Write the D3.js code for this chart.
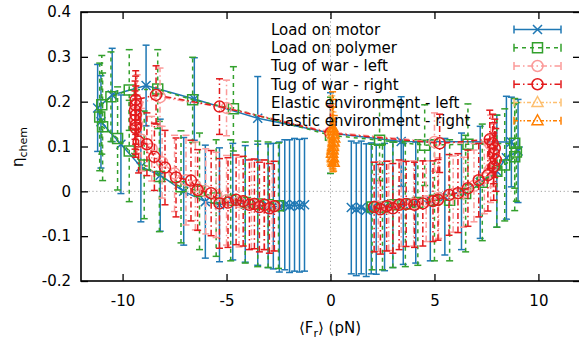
<!DOCTYPE html>
<html><head><meta charset="utf-8">
<script src="https://cdn.jsdelivr.net/npm/d3@7/dist/d3.min.js"></script>
<style>body{margin:0;background:#fff}svg{display:block;font-family:"DejaVu Sans",sans-serif}</style>
</head><body><svg id="c" width="579" height="339"></svg>
<script>
// ---------- data ----------
const xTicks = [-10, -5, 0, 5, 10];
const xTickLabels = ["-10", "-5", "0", "5", "10"];
const yTicks = [-0.2, -0.1, 0, 0.1, 0.2, 0.3, 0.4];
const yTickLabels = ["-0.2", "-0.1", "0", "0.1", "0.2", "0.3", "0.4"];
const seriesNames = ["Load on motor", "Load on polymer", "Tug of war - left", "Tug of war - right", "Elastic environment - left", "Elastic environment - right"];

// Load on motor
const motorF = [1.0, 1.24, 1.48, 1.72, 1.96, 2.2, 2.6, 3.0, 3.5, 4.1, 4.8, 5.5, 6.3, 7.2, 8.0, 8.46, 9.02, 8.7, 3.4, 0.0, -3.5, -6.55, -8.87, -10.5, -11.2, -11.04, -10.08, -9.12, -8.19, -7.06, -6.02, -5.34, -4.7, -4.1, -3.5, -3.0, -2.75, -2.46, -2.2, -1.97, -1.73, -1.49, -1.25];
const motorEta = [-0.036, -0.040, -0.036, -0.042, -0.038, -0.040, -0.035, -0.030, -0.028, -0.025, -0.020, -0.012, 0.000, 0.020, 0.045, 0.075, 0.090, 0.110, 0.111, 0.130, 0.163, 0.206, 0.236, 0.215, 0.186, 0.155, 0.105, 0.055, 0.036, 0.000, -0.023, -0.030, -0.023, -0.028, -0.030, -0.032, -0.033, -0.035, -0.030, -0.033, -0.030, -0.032, -0.030];
const motorErr = [0.148, 0.148, 0.148, 0.148, 0.146, 0.145, 0.142, 0.14, 0.135, 0.135, 0.135, 0.13, 0.13, 0.125, 0.125, 0.137, 0.115, 0.10, 0.10, 0.09, 0.093, 0.092, 0.09, 0.104, 0.097, 0.103, 0.11, 0.123, 0.125, 0.12, 0.126, 0.127, 0.13, 0.13, 0.135, 0.138, 0.14, 0.145, 0.145, 0.148, 0.148, 0.148, 0.148];

// Load on polymer
const polyF = [2.0, 2.5, 3.0, 3.6, 4.2, 5.0, 5.73, 6.5, 7.3, 8.0, 8.38, 8.86, 8.94, 8.86, 6.61, 4.53, 2.36, 0.0, -4.67, -6.63, -8.31, -9.68, -10.56, -11.0, -11.1, -10.96, -10.24, -9.68, -8.96, -8.23, -7.19, -6.3, -5.5, -4.8, -4.1, -3.5, -3.0, -2.5];
const polyEta = [-0.035, -0.035, -0.030, -0.028, -0.025, -0.020, -0.020, -0.005, 0.020, 0.045, 0.059, 0.077, 0.088, 0.107, 0.105, 0.103, 0.114, 0.125, 0.184, 0.204, 0.228, 0.226, 0.211, 0.193, 0.166, 0.144, 0.118, 0.090, 0.059, 0.033, 0.010, 0.000, -0.015, -0.020, -0.025, -0.028, -0.030, -0.032];
const polyErr = [0.14, 0.14, 0.14, 0.14, 0.14, 0.135, 0.135, 0.13, 0.13, 0.125, 0.125, 0.12, 0.11, 0.10, 0.09, 0.09, 0.09, 0.085, 0.094, 0.095, 0.088, 0.09, 0.10, 0.11, 0.12, 0.12, 0.115, 0.113, 0.12, 0.123, 0.125, 0.13, 0.13, 0.135, 0.135, 0.14, 0.14, 0.14];

// Tug of war - left (mostly hidden beneath the right one)
const tugLF = [2.3, 2.8, 3.4, 4.0, 4.6, 5.2, 5.9, 6.4, 6.9, 7.4, 7.7, 7.8, 7.7, 5.0, 0.0, -5.0, -8.2, -9.3, -9.35, -9.3, -9.1, -8.6, -8.1, -7.5, -6.95, -6.5, -6.0, -5.5, -5.0, -4.4, -3.8, -3.2, -2.8];
const tugLEta = [-0.034, -0.032, -0.028, -0.027, -0.022, -0.015, -0.006, -0.002, 0.012, 0.030, 0.050, 0.080, 0.105, 0.110, 0.132, 0.186, 0.210, 0.195, 0.170, 0.150, 0.115, 0.095, 0.065, 0.040, 0.025, 0.012, 0.000, -0.008, -0.020, -0.024, -0.028, -0.030, -0.033];
const tugLErr = [0.1, 0.1, 0.095, 0.095, 0.09, 0.09, 0.085, 0.078, 0.08, 0.08, 0.075, 0.07, 0.065, 0.065, 0.06, 0.062, 0.065, 0.065, 0.065, 0.065, 0.07, 0.072, 0.08, 0.085, 0.1, 0.098, 0.095, 0.095, 0.1, 0.1, 0.1, 0.1, 0.1];

// Tug of war - right
const tugRF = [2.1, 2.4, 2.7, 3.0, 3.3, 3.64, 4.04, 4.44, 4.93, 5.17, 5.7, 6.13, 6.61, 7.13, 7.57, 7.85, 7.95, 7.85, 7.9, 7.8, 7.66, 5.25, 0.0, -5.34, -8.39, -9.37, -9.37, -9.40, -9.37, -9.40, -9.37, -9.37, -9.23, -8.83, -8.47, -7.96, -7.43, -6.71, -6.39, -5.74, -5.34, -4.93, -4.54, -4.2, -3.9, -3.66, -3.42, -3.18, -2.94, -2.7];
const tugREta = [-0.035, -0.040, -0.033, -0.038, -0.030, -0.028, -0.030, -0.027, -0.022, -0.019, -0.008, -0.004, 0.007, 0.025, 0.036, 0.055, 0.070, 0.085, 0.096, 0.107, 0.116, 0.107, 0.130, 0.189, 0.215, 0.204, 0.192, 0.181, 0.170, 0.159, 0.148, 0.141, 0.111, 0.105, 0.077, 0.053, 0.031, 0.024, 0.003, -0.004, -0.027, -0.025, -0.019, -0.022, -0.030, -0.028, -0.035, -0.030, -0.038, -0.033];
const tugRErr = [0.1, 0.1, 0.1, 0.1, 0.1, 0.095, 0.095, 0.095, 0.09, 0.09, 0.09, 0.088, 0.085, 0.082, 0.08, 0.075, 0.07, 0.068, 0.065, 0.065, 0.065, 0.065, 0.06, 0.062, 0.065, 0.065, 0.065, 0.065, 0.065, 0.065, 0.065, 0.065, 0.07, 0.07, 0.075, 0.083, 0.088, 0.09, 0.09, 0.095, 0.1, 0.1, 0.1, 0.1, 0.1, 0.1, 0.1, 0.1, 0.1, 0.1];

// Elastic environment - left
const elLF = [0.06, 0.09, 0.12, 0.14, 0.12, 0.09, 0.07, 0.09, 0.11];
const elLEta = [0.138, 0.130, 0.122, 0.113, 0.104, 0.095, 0.086, 0.077, 0.068];
const elLErr = [0.075, 0.065, 0.055, 0.05, 0.045, 0.04, 0.035, 0.03, 0.025];

// Elastic environment - right
const elRF = [0.10, 0.12, 0.15, 0.18, 0.15, 0.12, 0.10, 0.08, 0.12, 0.15];
const elREta = [0.142, 0.135, 0.128, 0.119, 0.110, 0.100, 0.092, 0.085, 0.075, 0.065];
const elRErr = [0.08, 0.07, 0.06, 0.05, 0.045, 0.04, 0.035, 0.03, 0.025, 0.02];

// ---------- drawing ----------
const svg = d3.select("#c");
const x = d3.scaleLinear().domain([-12, 12]).range([81, 580]);
const y = d3.scaleLinear().domain([-0.2, 0.4]).range([281, 12]);

const series = [
  {F: motorF, E: motorEta, S: motorErr, color: "#1f78b4", dash: null, mark: "x"},
  {F: polyF, E: polyEta, S: polyErr, color: "#33a02c", dash: "4,4", mark: "square"},
  {F: tugLF, E: tugLEta, S: tugLErr, color: "#fb9a99", dash: "6,3,1.5,3", mark: "circle"},
  {F: tugRF, E: tugREta, S: tugRErr, color: "#e31a1c", dash: "6,3,1.5,3", mark: "circle"},
  {F: elLF, E: elLEta, S: elLErr, color: "#fdbf6f", dash: "4,2,1.5,2,1.5,2", mark: "tri"},
  {F: elRF, E: elREta, S: elRErr, color: "#ff7f00", dash: "4,2,1.5,2,1.5,2", mark: "tri"}
];

svg.append("defs").append("clipPath").attr("id", "clip")
  .append("rect").attr("x", 81).attr("y", 12).attr("width", 499).attr("height", 269);

const plot = svg.append("g").attr("clip-path", "url(#clip)");

// zero lines
plot.append("line").attr("x1", x(-12)).attr("x2", x(12)).attr("y1", y(0)).attr("y2", y(0))
  .attr("stroke", "#a0a0a0").attr("stroke-width", 1).attr("stroke-dasharray", "1.2,2.6");
plot.append("line").attr("x1", x(0)).attr("x2", x(0)).attr("y1", y(-0.2)).attr("y2", y(0.4))
  .attr("stroke", "#a0a0a0").attr("stroke-width", 1).attr("stroke-dasharray", "1.2,2.6");

function markerPath(t, cx, cy) {
  if (t === "x") return `M${cx-4.5},${cy-4.5}L${cx+4.5},${cy+4.5}M${cx-4.5},${cy+4.5}L${cx+4.5},${cy-4.5}`;
  if (t === "square") return `M${cx-5},${cy-5}h10v10h-10Z`;
  if (t === "circle") return `M${cx-5.5},${cy}a5.5,5.5 0 1,0 11,0a5.5,5.5 0 1,0 -11,0Z`;
  return `M${cx},${cy-6}L${cx+5.5},${cy+4}L${cx-5.5},${cy+4}Z`;
}

const line = d3.line().x(d => x(d[0])).y(d => y(d[1]));

series.forEach(s => {
  const g = plot.append("g");
  const pts = s.F.map((f, i) => [f, s.E[i], s.S[i]]);
  pts.forEach(p => {
    const px = x(p[0]);
    g.append("line").attr("x1", px).attr("x2", px).attr("y1", y(p[1] - p[2])).attr("y2", y(p[1] + p[2]))
      .attr("stroke", s.color).attr("stroke-width", 1.5).attr("stroke-dasharray", s.dash);
    [p[1] - p[2], p[1] + p[2]].forEach(v => {
      g.append("line").attr("x1", px - 3.5).attr("x2", px + 3.5).attr("y1", y(v)).attr("y2", y(v))
        .attr("stroke", s.color).attr("stroke-width", 1.5);
    });
  });
  g.append("path").attr("d", line(pts)).attr("fill", "none").attr("stroke", s.color)
    .attr("stroke-width", 1.5).attr("stroke-dasharray", s.dash);
  pts.forEach(p => {
    g.append("path").attr("d", markerPath(s.mark, x(p[0]), y(p[1])))
      .attr("fill", "none").attr("stroke", s.color).attr("stroke-width", 1.5);
  });
});

// axes
const fontSize = "15px";
const axG = svg.append("g");
const axBottom = axG.append("g").attr("transform", `translate(0,${y(-0.2)})`)
  .call(d3.axisBottom(x).tickValues(xTicks).tickFormat((d, i) => xTickLabels[i]).tickSizeInner(-7).tickSizeOuter(0).tickPadding(14));
const axTop = axG.append("g").attr("transform", `translate(0,${y(0.4)})`)
  .call(d3.axisTop(x).tickValues(xTicks).tickFormat("").tickSizeInner(-7).tickSizeOuter(0));
const axLeft = axG.append("g").attr("transform", `translate(${x(-12)},0)`)
  .call(d3.axisLeft(y).tickValues(yTicks).tickFormat((d, i) => yTickLabels[i]).tickSizeInner(-7).tickSizeOuter(0).tickPadding(10));
const axRight = axG.append("g").attr("transform", `translate(${x(12)},0)`)
  .call(d3.axisRight(y).tickValues(yTicks).tickFormat("").tickSizeInner(-7).tickSizeOuter(0));
[axBottom, axTop, axLeft, axRight].forEach(a => {
  a.select(".domain").remove();
  a.selectAll(".tick line").attr("stroke", "#000").attr("stroke-width", 1.3);
  a.selectAll("text").attr("font-family", "DejaVu Sans").attr("font-size", fontSize).attr("fill", "#000");
});
axG.append("rect").attr("x", x(-12)).attr("y", y(0.4)).attr("width", x(12) - x(-12)).attr("height", y(-0.2) - y(0.4))
  .attr("fill", "none").attr("stroke", "#000").attr("stroke-width", 1.6);

// axis labels
const xl = svg.append("text").attr("x", 330).attr("y", 333).attr("text-anchor", "middle")
  .attr("font-size", fontSize).attr("fill", "#000");
xl.append("tspan").text("\u27E8F");
xl.append("tspan").attr("font-size", "11px").attr("dy", 4).text("r");
xl.append("tspan").attr("dy", -4).text("\u27E9 (pN)");

const yl = svg.append("text").attr("transform", "translate(23,147) rotate(-90)").attr("text-anchor", "middle")
  .attr("font-size", fontSize).attr("fill", "#000");
yl.append("tspan").text("\u03B7");
yl.append("tspan").attr("font-size", "11px").attr("dy", 4).text("chem");

// legend
const legY0 = 29.5, legDy = 18.25;
series.forEach((s, i) => {
  const ly = legY0 + i * legDy;
  const g = svg.append("g");
  g.append("line").attr("x1", 514).attr("x2", 561).attr("y1", ly).attr("y2", ly)
    .attr("stroke", s.color).attr("stroke-width", 1.5).attr("stroke-dasharray", s.dash);
  [514, 561].forEach(lx => g.append("line").attr("x1", lx).attr("x2", lx).attr("y1", ly - 4).attr("y2", ly + 4)
    .attr("stroke", s.color).attr("stroke-width", 1.5));
  g.append("path").attr("d", markerPath(s.mark, 537.5, ly)).attr("fill", "none").attr("stroke", s.color).attr("stroke-width", 1.5);
  g.append("text").attr("x", 271).attr("y", ly).attr("dy", "0.36em").attr("font-size", fontSize)
    .attr("fill", "#000").text(seriesNames[i]);
});
</script></body></html>
